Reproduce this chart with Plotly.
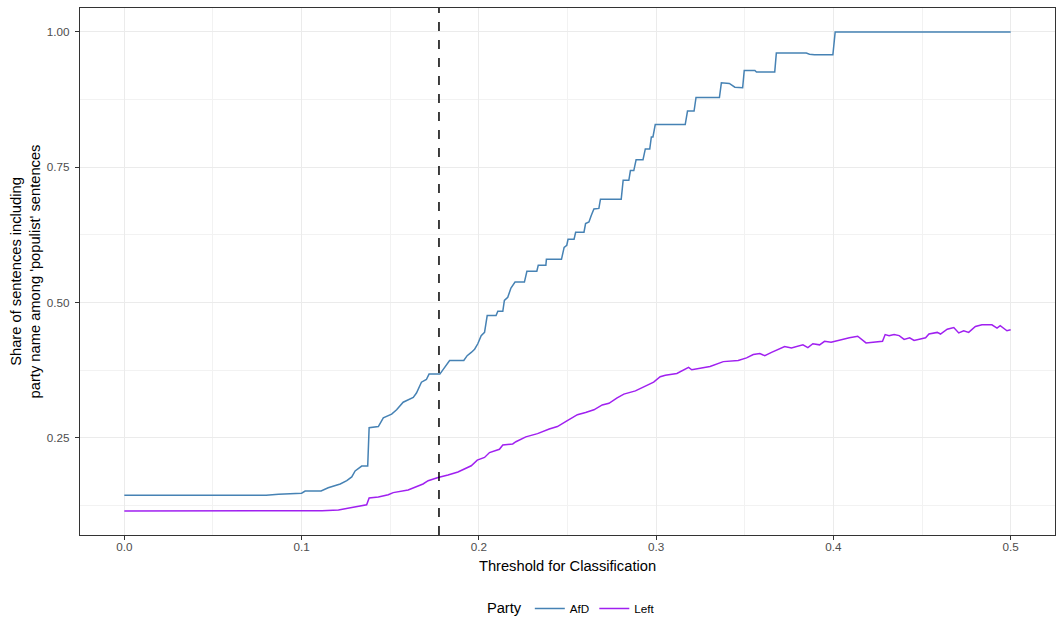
import plotly.graph_objects as go

# ---- data ----
afd_x = [0.000, 0.080, 0.087, 0.100, 0.102, 0.111, 0.115, 0.1218, 0.1255, 0.1283, 0.1302, 0.1339,
         0.1373, 0.1381, 0.1433, 0.1461, 0.1508, 0.1536, 0.1573, 0.1630, 0.1648, 0.1676, 0.1704,
         0.1719, 0.1780, 0.1800, 0.1835, 0.1915, 0.1934, 0.1957, 0.1976, 0.1994, 0.2013, 0.2032,
         0.2047, 0.2097, 0.2107, 0.2135, 0.2144, 0.2163, 0.2181, 0.2204, 0.2257, 0.2271, 0.2327,
         0.2335, 0.2378, 0.2381, 0.2466, 0.2481, 0.2496, 0.2503, 0.2537, 0.2546, 0.2593, 0.2602,
         0.2621, 0.2634, 0.2649, 0.2677, 0.2686, 0.2803, 0.2814, 0.2846, 0.2855, 0.2874, 0.2887,
         0.2926, 0.2939, 0.2964, 0.2973, 0.2982, 0.2995, 0.3164, 0.3177, 0.3214, 0.3225, 0.3357,
         0.3368, 0.3413, 0.3444, 0.3488, 0.3497, 0.3557, 0.3566, 0.3669, 0.3678, 0.3847, 0.3865,
         0.3893, 0.3997, 0.4010, 0.5000]
afd_y = [0.144, 0.144, 0.146, 0.148, 0.152, 0.152, 0.158, 0.165, 0.171, 0.178, 0.189, 0.198,
         0.198, 0.269, 0.271, 0.287, 0.294, 0.302, 0.316, 0.325, 0.333, 0.353, 0.358,
         0.368, 0.368, 0.377, 0.393, 0.393, 0.402, 0.408, 0.414, 0.424, 0.439, 0.445,
         0.476, 0.476, 0.484, 0.484, 0.504, 0.510, 0.527, 0.538, 0.538, 0.558, 0.558,
         0.569, 0.569, 0.580, 0.580, 0.602, 0.606, 0.617, 0.617, 0.630, 0.630, 0.646,
         0.649, 0.661, 0.673, 0.674, 0.691, 0.691, 0.726, 0.726, 0.744, 0.744, 0.764,
         0.764, 0.784, 0.784, 0.806, 0.806, 0.829, 0.829, 0.854, 0.854, 0.879, 0.879,
         0.906, 0.905, 0.898, 0.897, 0.929, 0.929, 0.926, 0.926, 0.961, 0.961, 0.959,
         0.958, 0.958, 1.000, 1.000]

left_x = [0.000, 0.100, 0.1059, 0.1115, 0.1208, 0.1283, 0.1367, 0.1381, 0.1433, 0.1489, 0.1517,
          0.1601, 0.1639, 0.1685, 0.1714, 0.1770, 0.1826, 0.1882, 0.1957, 0.1991, 0.2032, 0.2060,
          0.2116, 0.2135, 0.2191, 0.2209, 0.2265, 0.2331, 0.2397, 0.2443, 0.2499, 0.2556, 0.2602,
          0.2649, 0.2696, 0.2734, 0.2780, 0.2818, 0.2883, 0.2939, 0.2986, 0.3023, 0.3052, 0.3117,
          0.3155, 0.3183, 0.3201, 0.3239, 0.3304, 0.3379, 0.3435, 0.3463, 0.3510, 0.3548, 0.3585,
          0.3613, 0.3651, 0.3679, 0.3725, 0.3763, 0.3828, 0.3856, 0.3884, 0.3922, 0.3950, 0.3987,
          0.4034, 0.4090, 0.4137, 0.4184, 0.4277, 0.4292, 0.4314, 0.4342, 0.4371, 0.4399, 0.4430,
          0.4455, 0.4520, 0.4539, 0.4586, 0.4604, 0.4642, 0.4679, 0.4707, 0.4735, 0.4763, 0.4801,
          0.4838, 0.4894, 0.4923, 0.4941, 0.4979, 0.5000]
left_y = [0.115, 0.115, 0.116, 0.1155, 0.117, 0.1215, 0.1265, 0.139, 0.141, 0.145, 0.149,
          0.154, 0.1585, 0.165, 0.171, 0.177, 0.1815, 0.187, 0.1986, 0.209, 0.214, 0.223,
          0.229, 0.237, 0.239, 0.243, 0.252, 0.258, 0.2665, 0.271, 0.282, 0.293, 0.297,
          0.302, 0.311, 0.314, 0.324, 0.331, 0.337, 0.345, 0.353, 0.363, 0.366, 0.369,
          0.376, 0.3805, 0.376, 0.3786, 0.382, 0.391, 0.393, 0.393, 0.398, 0.404, 0.406,
          0.402, 0.408, 0.4126, 0.419, 0.416, 0.422, 0.417, 0.424, 0.422, 0.4285, 0.427,
          0.431, 0.435, 0.438, 0.4255, 0.4285, 0.441, 0.439, 0.441, 0.439, 0.432, 0.435,
          0.430, 0.435, 0.442, 0.445, 0.442, 0.451, 0.454, 0.444, 0.448, 0.445, 0.456,
          0.459, 0.459, 0.453, 0.4575, 0.448, 0.450]

threshold = 0.1775
y_tickvals = [0.25, 0.50, 0.75, 1.00]
y_ticktext = ["0.25", "0.50", "0.75", "1.00"]
x_tickvals = [0.0, 0.1, 0.2, 0.3, 0.4, 0.5]
x_ticktext = ["0.0", "0.1", "0.2", "0.3", "0.4", "0.5"]

FONT = "Liberation Sans, Arial, Helvetica, sans-serif"

fig = go.Figure()
fig.add_trace(go.Scatter(x=afd_x, y=afd_y, mode="lines", name="AfD",
                         line=dict(color="#4682B4", width=1.5)))
fig.add_trace(go.Scatter(x=left_x, y=left_y, mode="lines", name="Left",
                         line=dict(color="#A020F0", width=1.5)))

fig.add_shape(type="line", xref="x", yref="paper", x0=threshold, x1=threshold, y0=0, y1=1,
              line=dict(color="black", width=1.5, dash="dash"))

axis_common = dict(
    showline=True, mirror=True, linecolor="#333333", linewidth=1.2,
    ticks="outside", ticklen=4, tickcolor="#333333", tickwidth=1,
    showgrid=True, gridcolor="#EBEBEB", gridwidth=1.1, zeroline=False,
    tickfont=dict(family=FONT, size=11.7, color="#4D4D4D"),
    automargin=False,
)

fig.update_xaxes(
    **axis_common,
    range=[-0.025, 0.525], tickmode="array", tickvals=x_tickvals, ticktext=x_ticktext,
    ticklabelstandoff=-3,
    minor=dict(showgrid=True, gridcolor="#F2F2F2", gridwidth=0.6, tickmode="linear", tick0=0.05, dtick=0.1, ticks=""),
    title=dict(text="Threshold for Classification", font=dict(family=FONT, size=14.7, color="black"), standoff=8),
)
fig.update_yaxes(
    **axis_common,
    range=[0.0707, 1.0443], tickmode="array", tickvals=y_tickvals, ticktext=y_ticktext,
    ticklabelstandoff=3,
    minor=dict(showgrid=True, gridcolor="#F2F2F2", gridwidth=0.6, tickmode="linear", tick0=0.125, dtick=0.25, ticks=""),
    title=dict(text="Share of sentences including<br>party name among 'populist' sentences",
               font=dict(family=FONT, size=14.7, color="black"), standoff=2),
)

fig.update_layout(
    width=1061, height=622,
    margin=dict(l=80, r=6, t=8, b=87, autoexpand=False),
    plot_bgcolor="white", paper_bgcolor="white",
    font=dict(family=FONT, color="black"),
    showlegend=True,
    legend=dict(orientation="h", x=0.505, xanchor="center", y=-0.1404, yanchor="middle",
                title=dict(text="Party", font=dict(family=FONT, size=14.7, color="black")),
                font=dict(family=FONT, size=11.7, color="black"),
                itemwidth=30, bgcolor="rgba(0,0,0,0)"),
)

fig.write_html("out.html")
